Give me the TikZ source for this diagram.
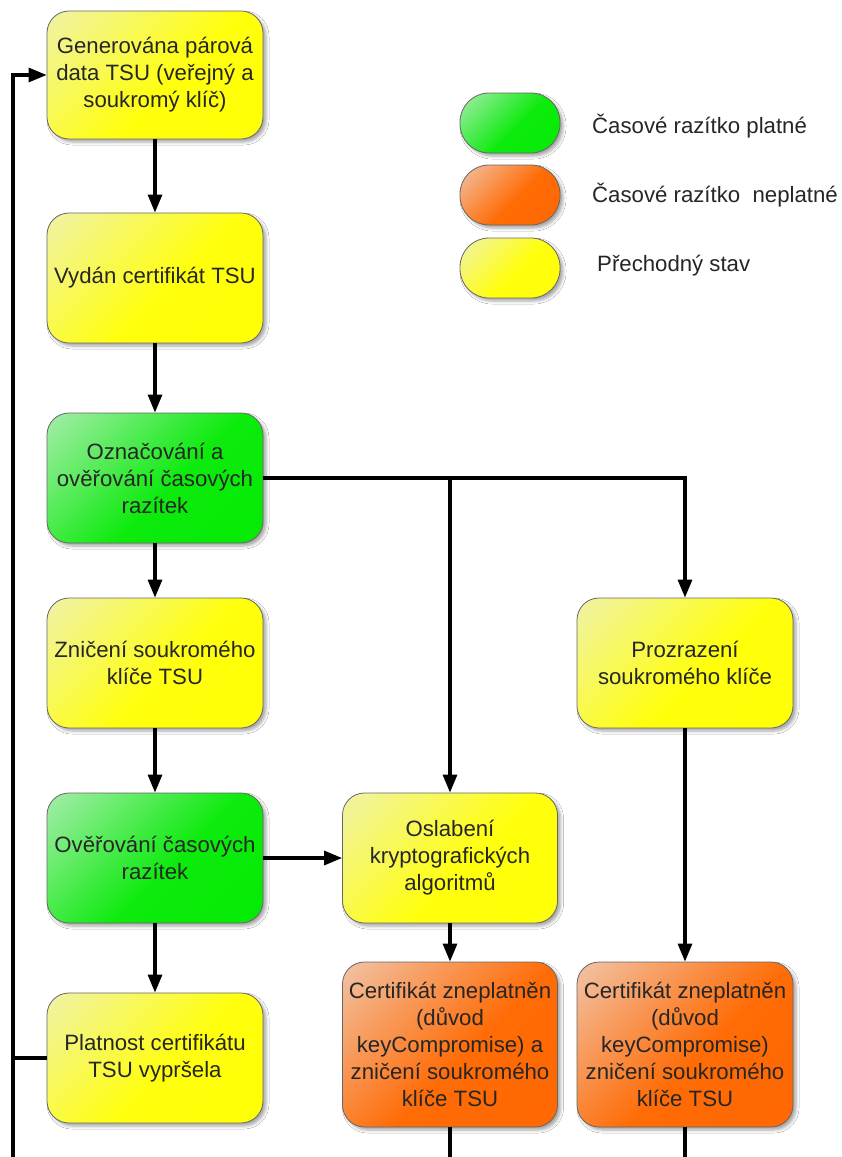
\documentclass[tikz,border=0pt]{standalone}
\usepackage{fontspec}
\setmainfont{Liberation Sans}
\usetikzlibrary{arrows.meta,shadows.blur,calc}
\pgfdeclareverticalshading{yelshade}{100bp}{rgb(0bp)=(1,1,0); rgb(45bp)=(1,1,0.05); rgb(100bp)=(0.92,0.93,0.88)}
\pgfdeclareverticalshading{grnshade}{100bp}{rgb(0bp)=(0,0.92,0); rgb(45bp)=(0.05,0.92,0.05); rgb(100bp)=(0.87,0.93,0.9)}
\pgfdeclareverticalshading{orgshade}{100bp}{rgb(0bp)=(1,0.4,0); rgb(45bp)=(1,0.42,0.02); rgb(100bp)=(0.93,0.89,0.88)}
\begin{document}
\begin{tikzpicture}[x=1pt,y=-1pt,
  box/.style={rectangle, rounded corners=22pt, draw=black!60, line width=0.8pt,
    align=center, text=black!85, font=\fontsize{22.2}{27}\selectfont,
    inner sep=2pt,
    blur shadow={shadow xshift=3pt, shadow yshift=-3pt, shadow blur radius=3pt, shadow opacity=35}},
  ybox/.style={box, shading=yelshade, shading angle=45},
  gbox/.style={box, shading=grnshade, shading angle=45},
  obox/.style={box, shading=orgshade, shading angle=45},
  pill/.style={rectangle, rounded corners=29pt, draw=black!60, line width=0.8pt,
    minimum width=100pt, minimum height=60pt,
    blur shadow={shadow xshift=3pt, shadow yshift=-3pt, shadow blur radius=3pt, shadow opacity=35}},
  legtext/.style={anchor=west, text=black!85, font=\fontsize{22.2}{27}\selectfont, inner sep=0pt},
  arr/.style={line width=3.1pt, -{Triangle[length=18pt,width=14pt]}},
  ln/.style={line width=3.1pt}]
\useasboundingbox[fill=white] (0,0) rectangle (842,1157);

% main column
\node[ybox, minimum width=216pt, minimum height=128pt] (b1) at (155,75) {Generována párová\\data TSU (veřejný a\\soukromý klíč)};
\node[ybox, minimum width=216pt, minimum height=130pt] (b2) at (155,278) {Vydán certifikát TSU};
\node[gbox, minimum width=216pt, minimum height=130pt] (b3) at (155,478) {Označování a\\ověřování časových\\razítek};
\node[ybox, minimum width=216pt, minimum height=130pt] (b4) at (155,663) {Zničení soukromého\\klíče TSU};
\node[gbox, minimum width=216pt, minimum height=130pt] (b5) at (155,858) {Ověřování časových\\razítek};
\node[ybox, minimum width=216pt, minimum height=130pt] (b6) at (155,1058) {Platnost certifikátu\\TSU vypršela};

% middle column
\node[ybox, minimum width=215pt, minimum height=130pt] (b7) at (450,858) {Oslabení\\kryptografických\\algoritmů};
\node[obox, minimum width=215pt, minimum height=165pt] (b8) at (450,1044.5) {Certifikát zneplatněn\\(důvod\\keyCompromise) a\\zničení soukromého\\klíče TSU};

% right column
\node[ybox, minimum width=216pt, minimum height=130pt] (b9) at (685,663) {Prozrazení\\soukromého klíče};
\node[obox, minimum width=216pt, minimum height=165pt] (b10) at (685,1044.5) {Certifikát zneplatněn\\(důvod\\keyCompromise)\\zničení soukromého\\klíče TSU};

% legend
\node[pill, shading=grnshade, shading angle=45] (l1) at (510,123) {};
\node[pill, shading=orgshade, shading angle=45] (l2) at (510,195) {};
\node[pill, shading=yelshade, shading angle=45] (l3) at (510,268) {};
\node[legtext] (t1) at (592,126) {Časové razítko platné};
\node[legtext] (t2) at (592,195) {Časové razítko\ \ neplatné};
\node[legtext] (t3) at (597,266) {Přechodný stav};

% coordinates for free ends
\coordinate (leftbot) at (13,1157);
\coordinate (bot) at (0,1157);

% connectors
\draw[arr] (b1) -- (b2);
\draw[arr] (b2) -- (b3);
\draw[arr] (b3) -- (b4);
\draw[arr] (b4) -- (b5);
\draw[arr] (b5) -- (b6);
\draw[arr] (b3.east) -| (b9.north);
\draw[arr] (b7 |- b3.east) -- (b7.north);
\draw[arr] (b5.east) -- (b7.west);
\draw[arr] (b7) -- (b8);
\draw[arr] (b9) -- (b10);
\draw[ln] (b8.south) -- (b8.south |- bot);
\draw[ln] (b10.south) -- (b10.south |- bot);
\draw[arr] (leftbot) -- (leftbot |- b1.west) -- (b1.west);
\draw[ln] (b6.west) -- (leftbot |- b6.west);
\end{tikzpicture}
\end{document}
